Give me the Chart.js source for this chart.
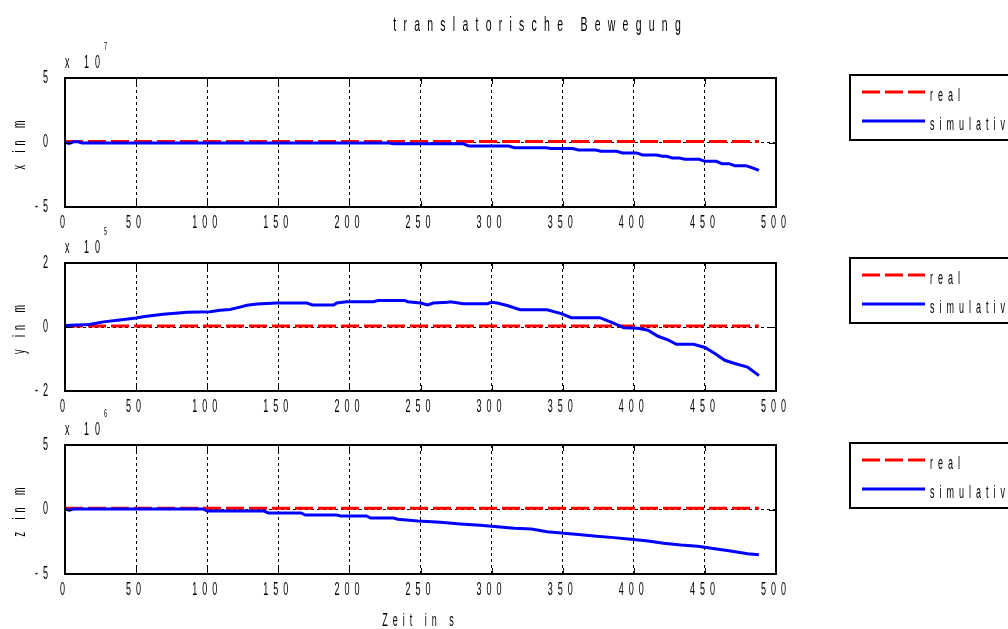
<!DOCTYPE html>
<html>
<head>
<meta charset="utf-8">
<title>translatorische Bewegung</title>
<script src="https://cdn.jsdelivr.net/npm/chart.js@4.4.1/dist/chart.umd.min.js"></script>
<style>
  html, body { margin: 0; padding: 0; background: #fff; }
  #wrap { position: relative; width: 1008px; height: 629px; overflow: hidden; }
  #wrap canvas { position: absolute; left: 0; top: 0; }
</style>
</head>
<body>
<div id="wrap">
  <canvas id="chartX" width="1008" height="629"></canvas>
  <canvas id="chartY" width="1008" height="629"></canvas>
  <canvas id="chartZ" width="1008" height="629"></canvas>
</div>
<script>
// time in s, positions scaled by the exponent shown above each axis
const realTime = [0, 488];

// x in m (x 10^7)
const xReal = [0.08, 0.08];
const xTime = [0, 3, 6, 9, 12, 227, 231, 280, 284, 312, 316, 338, 342, 357, 361, 373, 377, 388, 392,
  402, 406, 416, 420, 423, 427, 432, 436, 446, 450, 458, 462, 467, 471, 479, 483, 488];
const xSim = [0, -0.08, 0.05, 0.05, -0.03, -0.03, -0.1, -0.1, -0.27, -0.27, -0.4, -0.4, -0.47, -0.47,
  -0.58, -0.58, -0.68, -0.68, -0.81, -0.81, -0.97, -0.97, -1.07, -1.07, -1.2, -1.2, -1.3, -1.3,
  -1.46, -1.46, -1.64, -1.64, -1.8, -1.8, -1.95, -2.16];

// y in m (x 10^5)
const yReal = [0.03, 0.03];
const yTime = [0, 17, 27, 37, 50, 56, 69, 86, 102, 109, 116, 123, 128, 135, 149, 170, 174, 189, 191,
  198, 217, 220, 239, 241, 250, 255, 259, 269, 271, 280, 297, 300, 304, 311, 320, 339, 349, 356, 376,
  384, 393, 403, 410, 417, 424, 430, 442, 450, 457, 464, 471, 480, 488];
const ySim = [0.05, 0.08, 0.16, 0.21, 0.28, 0.33, 0.4, 0.46, 0.48, 0.52, 0.55, 0.62, 0.68, 0.72, 0.75,
  0.75, 0.69, 0.69, 0.75, 0.79, 0.79, 0.83, 0.83, 0.79, 0.75, 0.69, 0.75, 0.77, 0.79, 0.73, 0.73, 0.77,
  0.75, 0.67, 0.54, 0.54, 0.42, 0.29, 0.29, 0.15, -0.02, -0.04, -0.1, -0.29, -0.4, -0.54, -0.54, -0.64,
  -0.83, -1.04, -1.14, -1.25, -1.52];

// z in m (x 10^6)
const zReal = [0.1, 0.1];
const zTime = [0, 3, 6, 97, 100, 140, 143, 166, 169, 191, 194, 212, 215, 231, 234, 248, 264, 278, 292,
  304, 316, 328, 339, 351, 363, 374, 386, 398, 410, 421, 433, 445, 457, 468, 480, 488];
const zSim = [0.04, -0.05, 0.04, 0.04, -0.12, -0.12, -0.27, -0.27, -0.43, -0.43, -0.5, -0.5, -0.66,
  -0.66, -0.76, -0.89, -0.99, -1.12, -1.23, -1.33, -1.46, -1.51, -1.72, -1.85, -1.95, -2.08, -2.18,
  -2.31, -2.44, -2.62, -2.75, -2.85, -3.04, -3.22, -3.43, -3.5];

const seriesLabels = ['real', 'simulativ'];
const seriesColors = ['#ff0000', '#0000ff'];
const titleText = 'translatorische Bewegung';
const timeLabel = 'Zeit in s';

const AREA_LEFT = 65;
const AREA_RIGHT = 776;
const PAGE_W = 1008;
const PAGE_H = 629;
const FONT_FAMILY = "'Liberation Sans', Arial, sans-serif";
const TEXT_COLOR = '#000';
const TEXT_SQUEEZE = 0.5;   // horizontal scale for the narrow lettering
const REAL_DASH = [18, 5];

function pairs(xs, ys) {
  return xs.map(function (t, i) {
    return { x: t, y: ys[i] };
  });
}

// every fillText on this context is squeezed horizontally around its anchor;
// the trailing letter spacing is taken back out so alignment stays right
function squeezeText(ctx) {
  if (ctx._squeezed) return;
  const nativeFill = ctx.fillText;
  ctx.fillText = function (text, x, y) {
    const spacing = parseFloat(this.letterSpacing) || 0;
    let shift = 0;
    if (this.textAlign === 'center') shift = spacing / 2;
    else if (this.textAlign === 'right' || this.textAlign === 'end') shift = spacing;
    this.save();
    this.translate(x, y);
    this.scale(TEXT_SQUEEZE, 1);
    nativeFill.call(this, text, shift, 0);
    this.restore();
  };
  ctx._squeezed = true;
}

function drawText(ctx, text, x, y, size, spacing, align) {
  ctx.save();
  ctx.font = size + 'px ' + FONT_FAMILY;
  ctx.letterSpacing = spacing + 'px';
  ctx.fillStyle = TEXT_COLOR;
  ctx.textAlign = align || 'left';
  ctx.textBaseline = 'alphabetic';
  ctx.fillText(text, x, y);
  ctx.restore();
}

// axes box, inner tick marks, exponent label, legend box and figure title
const decorPlugin = {
  id: 'decor',
  beforeDraw(chart) {
    squeezeText(chart.ctx);
    chart.ctx.letterSpacing = '10px';
  },
  afterDatasetsDraw(chart) {
    const ctx = chart.ctx;
    const a = chart.chartArea;
    const xs = chart.scales.x;
    const ys = chart.scales.y;

    ctx.save();
    ctx.strokeStyle = '#000';
    ctx.lineWidth = 1;
    ctx.setLineDash([]);
    ctx.beginPath();
    xs.ticks.forEach(function (t) {
      const px = Math.round(xs.getPixelForValue(t.value)) + 0.5;
      ctx.moveTo(px, a.top);
      ctx.lineTo(px, a.top + 6);
      ctx.moveTo(px, a.bottom);
      ctx.lineTo(px, a.bottom - 6);
    });
    ys.ticks.forEach(function (t) {
      const py = Math.round(ys.getPixelForValue(t.value)) + 0.5;
      ctx.moveTo(a.left, py);
      ctx.lineTo(a.left + 7, py);
      ctx.moveTo(a.right, py);
      ctx.lineTo(a.right - 7, py);
    });
    ctx.stroke();

    ctx.lineWidth = 2;
    ctx.strokeRect(a.left, a.top, a.right - a.left, a.bottom - a.top);
    ctx.restore();
  },
  afterDraw(chart, args, opts) {
    const ctx = chart.ctx;
    const a = chart.chartArea;

    // exponent of the y axis
    drawText(ctx, 'x 10', a.left, a.top - 10, 18, 12);
    drawText(ctx, opts.exponent, a.left + 39, a.top - 28, 11, 0);

    // legend
    const lt = opts.legendTop;
    ctx.save();
    ctx.strokeStyle = '#000';
    ctx.lineWidth = 2;
    ctx.strokeRect(850, lt, 170, 65);
    chart.data.datasets.forEach(function (ds, i) {
      const ly = lt + 17 + i * 29;
      ctx.save();
      ctx.strokeStyle = ds.borderColor;
      ctx.lineWidth = 3;
      ctx.setLineDash(ds.borderDash || []);
      ctx.beginPath();
      ctx.moveTo(862, ly);
      ctx.lineTo(925, ly);
      ctx.stroke();
      ctx.restore();
      drawText(ctx, ds.label, 930, ly + 8.5, 18, 10);
    });
    ctx.restore();

    if (opts.title) {
      drawText(ctx, opts.title, 537, 31, 21, 14.5, 'center');
    }
  }
};

function buildChart(canvasId, p) {
  const xAxisHeight = p.xTitle ? 60 : 30;
  const font = { family: FONT_FAMILY, size: 18 };

  return new Chart(document.getElementById(canvasId), {
    type: 'line',
    data: {
      datasets: [
        {
          label: seriesLabels[0],
          data: pairs(realTime, p.real),
          borderColor: seriesColors[0],
          borderWidth: 3,
          borderDash: REAL_DASH,
          pointRadius: 0,
          order: 2
        },
        {
          label: seriesLabels[1],
          data: pairs(p.simT, p.sim),
          borderColor: seriesColors[1],
          borderWidth: 3,
          pointRadius: 0,
          order: 1
        }
      ]
    },
    options: {
      responsive: false,
      animation: false,
      devicePixelRatio: 1,
      events: [],
      layout: {
        padding: {
          left: 0,
          right: PAGE_W - AREA_RIGHT,
          top: p.top,
          bottom: PAGE_H - p.bottom - xAxisHeight
        }
      },
      plugins: {
        legend: { display: false },
        tooltip: { enabled: false },
        decor: { exponent: p.exponent, legendTop: p.legendTop, title: p.title }
      },
      scales: {
        x: {
          type: 'linear',
          min: 0,
          max: 500,
          afterFit: function (s) { s.height = xAxisHeight; },
          ticks: { stepSize: 50, autoSkip: false, maxRotation: 0, padding: 5, color: TEXT_COLOR, font: font },
          grid: {
            drawTicks: false,
            lineWidth: 1,
            color: function (c) {
              return (c.tick && (c.tick.value === 0 || c.tick.value === 500)) ? 'rgba(0,0,0,0)' : '#000';
            }
          },
          border: { display: false, dash: [3, 3] },
          title: {
            display: !!p.xTitle,
            text: p.xTitle || '',
            color: TEXT_COLOR,
            font: font,
            padding: { top: 4, bottom: 2 }
          }
        },
        y: {
          min: p.yMin,
          max: p.yMax,
          afterFit: function (s) { s.width = AREA_LEFT; },
          ticks: { stepSize: p.yStep, padding: 12, color: TEXT_COLOR, font: font },
          grid: {
            drawTicks: false,
            lineWidth: 1,
            color: function (c) {
              return (c.tick && c.tick.value === 0) ? '#000' : 'rgba(0,0,0,0)';
            }
          },
          border: { display: false, dash: [3, 3] },
          title: {
            display: true,
            text: p.yTitle,
            color: TEXT_COLOR,
            font: font,
            padding: { top: 9, bottom: 4 }
          }
        }
      }
    },
    plugins: [decorPlugin]
  });
}

buildChart('chartX', {
  real: xReal, simT: xTime, sim: xSim,
  yMin: -5, yMax: 5, yStep: 5, yTitle: 'x in m', exponent: '7',
  top: 78, bottom: 207, legendTop: 75, title: titleText
});

buildChart('chartY', {
  real: yReal, simT: yTime, sim: ySim,
  yMin: -2, yMax: 2, yStep: 2, yTitle: 'y in m', exponent: '5',
  top: 263, bottom: 391, legendTop: 258
});

buildChart('chartZ', {
  real: zReal, simT: zTime, sim: zSim,
  yMin: -5, yMax: 5, yStep: 5, yTitle: 'z in m', exponent: '6',
  top: 445, bottom: 574, legendTop: 443, xTitle: timeLabel
});
</script>
</body>
</html>
